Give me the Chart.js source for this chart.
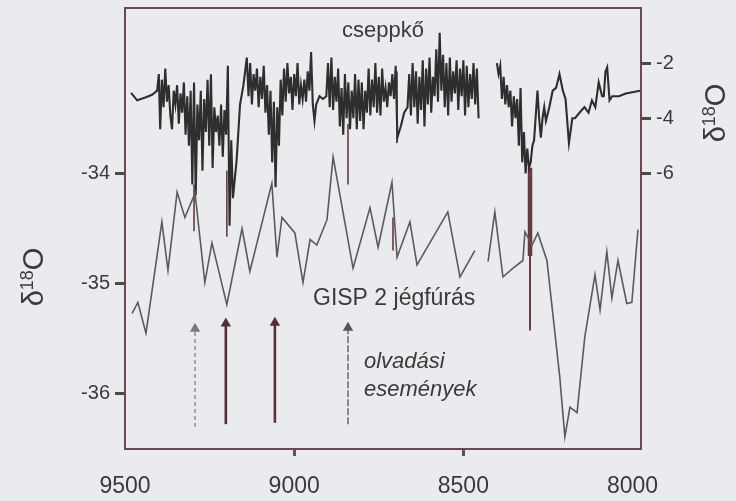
<!DOCTYPE html>
<html><head><meta charset="utf-8">
<script src="https://cdn.jsdelivr.net/npm/chart.js@4/dist/chart.umd.min.js"></script>
<style>html,body{margin:0;padding:0;background:#e9ebee;}#wrap{width:736px;height:501px;}</style>
</head><body><div id="wrap"><canvas id="c" width="736" height="501"></canvas></div>
<script>
// ---- data ----
const xTicks = [9500, 9000, 8500, 8000];
const leftTicks = [-36, -35, -34];
const rightTicks = [-6, -4, -2];

// GISP 2 ice core d18O (left axis)
const gispYears = [9479, 9462, 9438, 9391, 9373, 9346, 9323, 9293, 9264, 9243, 9199, 9154, 9131, 9066, 9051, 9036, 8998, 8974, 8953, 8933, 8903, 8885, 8826, 8776, 8752, 8711, 8696, 8658, 8637, 8546, 8510, 8466, 8445, 8427, 8407, 8383, 8353, 8324, 8318, 8297, 8280, 8253, 8215, 8200, 8185, 8164, 8141, 8111, 8096, 8076, 8061, 8043, 8017, 8002, 7984];
const gispValues = [-35.27, -35.17, -35.45, -34.44, -34.88, -34.17, -34.40, -34.18, -34.99, -34.63, -35.19, -34.50, -34.89, -34.09, -34.76, -34.40, -34.54, -34.99, -34.60, -34.65, -34.42, -33.85, -34.86, -34.31, -34.67, -34.08, -34.76, -34.44, -34.83, -34.35, -34.94, -34.70, null, -34.80, -34.35, -34.94, -34.86, -34.79, -34.53, -34.65, -34.54, -34.79, -35.85, -36.39, -36.12, -36.17, -35.48, -34.92, -35.24, -34.71, -35.13, -34.79, -35.18, -35.17, -34.51];

// stalagmite (cseppkő) d18O (right axis)
const caveYears = [9482, 9464, 9440, 9420, 9405,
 9400, 9396, 9391, 9386, 9381, 9376, 9371, 9366, 9361, 9356, 9351, 9346, 9341, 9336, 9331, 9326, 9321, 9316, 9311, 9306, 9301, 9296, 9291, 9286, 9281, 9276, 9271, 9266, 9261, 9256, 9251, 9246, 9241, 9236, 9231, 9226, 9221, 9216, 9211, 9206, 9201, 9196, 9191, 9186, 9181, 9170, 9160, 9150, 9140,
 9135, 9130, 9125, 9120, 9115, 9110, 9105, 9100, 9095, 9090, 9085, 9080, 9075, 9070, 9065, 9060, 9055, 9050, 9045, 9040, 9035, 9030, 9025, 9020, 9015, 9010, 9005, 9000, 8995, 8990, 8985, 8980, 8975,
 8970, 8965, 8960, 8955, 8950, 8945, 8940, 8935, 8925, 8915, 8905, 8900, 8895, 8890, 8885, 8880, 8875, 8870, 8865, 8860, 8855, 8850, 8845, 8840, 8835, 8830, 8825, 8820, 8815, 8810, 8805, 8800, 8795, 8790, 8785, 8780, 8775, 8770, 8765, 8760, 8755, 8750, 8745, 8740, 8735, 8730, 8725, 8720, 8715, 8710, 8705, 8700, 8695, 8685, 8675, 8665,
 8660, 8655, 8650, 8645, 8640, 8635, 8630, 8625, 8620, 8615, 8610, 8605, 8600, 8595, 8590, 8585, 8580, 8575, 8570, 8565, 8560, 8555, 8550, 8545, 8540, 8535, 8530, 8525, 8520, 8515, 8510, 8505, 8500, 8495, 8490, 8485, 8480, 8475, 8470, 8465, 8460, 8455, 8430,
 8401, 8396, 8391, 8386, 8381, 8376, 8371, 8366, 8361, 8356, 8351, 8346, 8341, 8336, 8331, 8326, 8321, 8316, 8311, 8306, 8301, 8296, 8291, 8286, 8281, 8276, 8271, 8266, 8261, 8256, 8246, 8236, 8226, 8216, 8206, 8198, 8188, 8178, 8170, 8150, 8142, 8130, 8120, 8110, 8100, 8090, 8085, 8080, 8075, 8068, 8060, 8040, 8020, 7978];
const caveValues = [-3.08, -3.35, -3.25, -3.15, -3.0,
 -2.4, -4.4, -2.6, -3.6, -2.2, -3.4, -2.8, -3.9, -4.4, -3.0, -3.5, -2.8, -4.2, -3.1, -3.8, -2.7, -4.6, -3.2, -5.0, -3.0, -6.4, -2.7, -6.8, -3.5, -4.8, -3.0, -5.9, -3.3, -4.5, -2.6, -5.0, -2.4, -5.8, -3.6, -4.5, -3.9, -5.0, -3.5, -5.4, -3.7, -4.6, -2.1, -7.9, -4.8, -6.9, -5.5, -3.5, -2.8, -1.8,
 -3.2, -2.0, -3.5, -2.4, -3.0, -2.2, -3.6, -2.5, -3.3, -2.1, -3.8, -2.8, -4.6, -3.0, -5.6, -3.4, -6.5, -3.6, -5.0, -2.6, -3.9, -2.2, -3.4, -2.0, -3.1, -2.5, -3.7, -2.4, -3.2, -2.0, -3.5, -2.8, -3.3,
 -2.6, -3.4, -2.3, -3.0, -1.6, -3.5, -4.1, -3.5, -3.2, -3.3, -3.2, -2.0, -3.6, -1.8, -3.7, -2.5, -3.4, -2.2, -4.3, -2.9, -4.6, -2.4, -4.0, -2.7, -4.4, -3.0, -4.0, -2.4, -4.4, -2.6, -4.1, -2.7, -4.4, -3.0, -3.8, -2.2, -3.9, -2.6, -3.6, -2.0, -3.8, -2.5, -3.9, -2.2, -3.4, -2.9, -3.6, -2.7, -3.2, -2.4, -3.3, -2.1, -4.7, -4.3, -3.8, -3.6,
 -2.4, -3.9, -2.0, -3.6, -2.3, -4.2, -2.5, -3.7, -1.9, -4.3, -2.2, -3.5, -1.8, -3.8, -2.5, -3.2, -1.5, -3.4, -0.9, -3.0, -1.7, -3.6, -2.0, -3.9, -1.8, -3.4, -2.3, -3.1, -1.9, -3.7, -2.2, -3.2, -1.9, -3.9, -2.1, -3.6, -2.4, -3.3, -2.0, -3.5, -2.2, -4.0, null,
 -2.0, -2.4, -2.1, -3.3, -2.5, -3.5, -2.8, -3.6, -3.0, -4.3, -3.2, -4.0, -3.3, -5.0, -2.9, -5.6, -4.5, -6.0, -5.1, -5.8, -5.6, -5.0, -4.8, -3.9, -3.0, -4.0, -4.7, -4.0, -3.6, -4.1, -3.6, -3.0, -2.9, -2.4, -3.0, -3.3, -4.9, -4.0, -4.0, -3.7, -3.6, -3.8, -3.35, -3.6, -2.7, -3.2, -3.2, -2.3, -2.15, -3.35, -3.2, -3.2, -3.1, -3.0];

// melt-event arrows (right-axis units)
const eventYears = [9293, 9202, 9057, 8841];
const eventBase = [-15.2, -15.1, -15.05, -15.1];
const eventHead = [-11.64, -11.45, -11.42, -11.6];

// vertical connector lines (right-axis units)
const markerYears = [9296, 9199, 8841, 8708, 8696, 8303, 8303];
const markerTop = [-6.4, -5.9, -4.2, -7.6, -2.3, -5.8, -9.0];
const markerBottom = [-8.1, -8.3, -6.4, -8.8, -4.9, -9.0, -11.7];

// ---- styles ----
const FONT = '"Liberation Sans", Arial, Helvetica, sans-serif';
const AXIS = '#6e4650';
const TEXT = '#3a3a3a';
const MARK = '#6b3942';
const arrowStyles = [
  {color: '#7a7a7a', width: 1.2, dash: [4, 3]},
  {color: '#5a2e36', width: 2.6, dash: []},
  {color: '#5a2e36', width: 2.6, dash: []},
  {color: '#555555', width: 1.3, dash: [7, 2]}
];
const markerWidths = [1.6, 1.6, 1.6, 1.6, 1.6, 4.5, 2];

const pairs = (xs, ys) => xs.map((x, i) => ({x: x, y: ys[i]}));

const datasets = [];
datasets.push({data: pairs(gispYears, gispValues), yAxisID: 'y', borderColor: '#5a5a5a', borderWidth: 1.6, spanGaps: false});
datasets.push({data: pairs(caveYears, caveValues), yAxisID: 'y1', borderColor: '#2e2e2e', borderWidth: 2.1, spanGaps: false});
markerYears.forEach((yr, i) => datasets.push({
  data: [{x: yr, y: markerTop[i]}, {x: yr, y: markerBottom[i]}], yAxisID: 'y1',
  borderColor: MARK, borderWidth: markerWidths[i]
}));
eventYears.forEach((yr, i) => datasets.push({
  data: [{x: yr, y: eventBase[i]}, {x: yr, y: eventHead[i]}], yAxisID: 'y1',
  borderColor: arrowStyles[i].color, borderWidth: arrowStyles[i].width, borderDash: arrowStyles[i].dash,
  pointRadius: [0, 6], pointStyle: 'triangle', pointBackgroundColor: arrowStyles[i].color,
  pointBorderColor: arrowStyles[i].color, pointBorderWidth: 0
}));

function drawD18O(ctx, cx, cy) {
  ctx.save();
  ctx.translate(cx, cy);
  ctx.rotate(-Math.PI / 2);
  ctx.fillStyle = TEXT;
  ctx.textBaseline = 'alphabetic';
  const big = '29px ' + FONT, small = '18px ' + FONT;
  ctx.font = big; const w1 = ctx.measureText('δ').width; const w3 = ctx.measureText('O').width;
  ctx.font = small; const w2 = ctx.measureText('18').width;
  let x = -(w1 + w2 + w3) / 2; const base = 10;
  ctx.font = big; ctx.fillText('δ', x, base); x += w1;
  ctx.font = small; ctx.fillText('18', x, base - 10); x += w2;
  ctx.font = big; ctx.fillText('O', x, base);
  ctx.restore();
}

const deco = {
  id: 'deco',
  beforeDraw(chart) {
    const c = chart.ctx; c.save(); c.fillStyle = '#e9ebee'; c.fillRect(0, 0, chart.width, chart.height); c.restore();
  },
  afterDraw(chart) {
    const c = chart.ctx, a = chart.chartArea;
    c.save();
    c.strokeStyle = AXIS; c.lineWidth = 2;
    c.beginPath(); c.moveTo(a.left - 1, a.top); c.lineTo(a.right + 1, a.top); c.stroke();
    c.fillStyle = TEXT; c.textBaseline = 'alphabetic';
    c.font = '22px ' + FONT; c.textAlign = 'center';
    c.fillText('cseppkő', 383, 37);
    c.textAlign = 'left';
    c.font = '23px ' + FONT; c.fillText('GISP 2 jégfúrás', 313, 305);
    c.font = 'italic 22px ' + FONT;
    c.fillText('olvadási', 364, 368);
    c.fillText('események', 364, 396);
    c.restore();
    drawD18O(c, 33, 277);
    drawD18O(c, 715, 113);
  }
};

const tickFont = {size: 20, family: FONT};
const noPad = s => { s.paddingTop = 0; s.paddingBottom = 0; };
new Chart(document.getElementById('c'), {
  type: 'line',
  data: {datasets: datasets},
  options: {
    responsive: false, animation: false,
    layout: {padding: {top: 8, left: 0, right: 0, bottom: 0}},
    plugins: {legend: {display: false}, tooltip: {enabled: false}},
    elements: {point: {radius: 0}, line: {tension: 0}},
    scales: {
      x: {
        type: 'linear', reverse: true, min: 7975, max: 9500,
        afterBuildTicks: s => { s.ticks = xTicks.map(v => ({value: v})); },
        afterFit: s => { s.height = 52; s.paddingLeft = 0; s.paddingRight = 0; },
        border: {color: AXIS, width: 2},
        grid: {drawOnChartArea: false, tickLength: 7, tickWidth: 3,
          tickColor: ctx => (ctx.tick && (ctx.tick.value === 9000 || ctx.tick.value === 8500)) ? '#555' : 'rgba(0,0,0,0)'},
        ticks: {font: {size: 23, family: FONT}, color: TEXT, padding: 17, maxRotation: 0, autoSkip: false, callback: v => String(v)}
      },
      y: {
        position: 'left', min: -36.5, max: -32.5,
        afterBuildTicks: s => { s.ticks = leftTicks.map(v => ({value: v})); },
        afterFit: s => { s.width = 125; noPad(s); },
        border: {color: AXIS, width: 2},
        grid: {drawOnChartArea: false, tickLength: 10, tickWidth: 3, tickColor: '#4a4a4a'},
        ticks: {font: tickFont, color: TEXT, padding: 5, callback: v => String(v)}
      },
      y1: {
        position: 'right', min: -16, max: 0,
        afterBuildTicks: s => { s.ticks = rightTicks.map(v => ({value: v})); },
        afterFit: s => { s.width = 95; noPad(s); },
        border: {color: AXIS, width: 2},
        grid: {drawOnChartArea: false, tickLength: 10, tickWidth: 3, tickColor: '#4a4a4a'},
        ticks: {font: tickFont, color: TEXT, padding: 5, callback: v => String(v)}
      }
    }
  },
  plugins: [deco]
});
</script>
</body></html>
